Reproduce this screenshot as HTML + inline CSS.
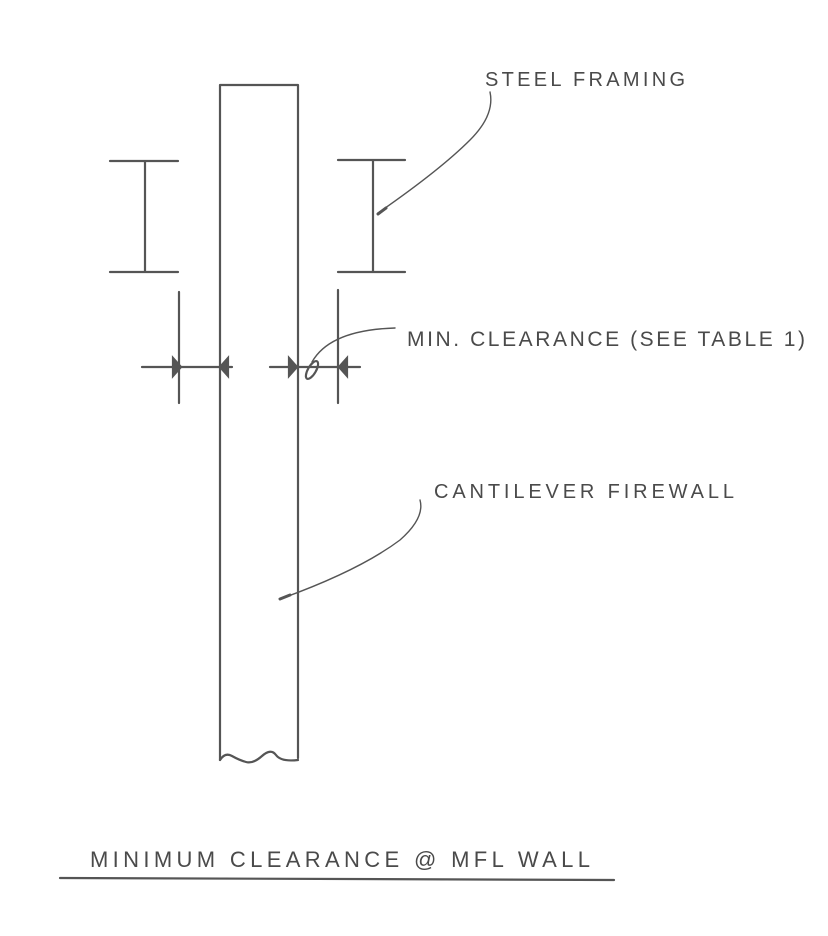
<!DOCTYPE html>
<html><head><meta charset="utf-8"><style>
html,body{margin:0;padding:0;background:#fff;}
svg{display:block}
text{font-family:"Liberation Sans",sans-serif;fill:#4a4a4a;}
</style></head><body>
<svg width="828" height="936" viewBox="0 0 828 936" xmlns="http://www.w3.org/2000/svg">
<g stroke="#555" stroke-width="2.2" fill="none" stroke-linecap="round">
<path d="M220 85 L298 85 M220 85 L220 760 M298 85 L298 758"/>
<path d="M220 760 Q225 752 232 756 T246 762 T262 756 T276 755 T298 760"/>
<path d="M110 161 L178 161 M145 161 L145 272 M110 272 L178 272"/>
<path d="M338 160 L405 160 M373 160 L373 272 M338 272 L405 272"/>
<path d="M179 292 L179 403 M338 290 L338 403"/>
<path d="M142 367 L232 367 M270 367 L360 367"/>
<path d="M173 358 L181 367 L173 376 Z M228 358 L220 367 L228 376 Z M289 358 L297 367 L289 376 Z M347 358 L339 367 L347 376 Z" fill="#555"/>
<ellipse cx="312" cy="370" rx="4" ry="10" transform="rotate(30 312 370)"/>
<path d="M312 362 Q330 330 395 328" stroke-width="1.4"/>
<path d="M378 213 Q440 170 470 140 Q495 115 490 92" stroke-width="1.4"/>
<path d="M283 598 Q360 570 400 540 Q425 518 420 500" stroke-width="1.4"/>
<path d="M378 214 L386 208" stroke-width="3"/>
<path d="M280 599 L290 595" stroke-width="3"/>
<path d="M60 878 L614 880"/>
</g>
<text x="485" y="86" font-size="20" textLength="200" lengthAdjust="spacing">STEEL FRAMING</text>
<text x="407" y="346" font-size="21" textLength="398" lengthAdjust="spacing">MIN. CLEARANCE (SEE TABLE 1)</text>
<text x="434" y="498" font-size="20" textLength="300" lengthAdjust="spacing">CANTILEVER FIREWALL</text>
<text x="90" y="867" font-size="22" textLength="500" lengthAdjust="spacing">MINIMUM CLEARANCE @ MFL WALL</text>
</svg>
</body></html>
